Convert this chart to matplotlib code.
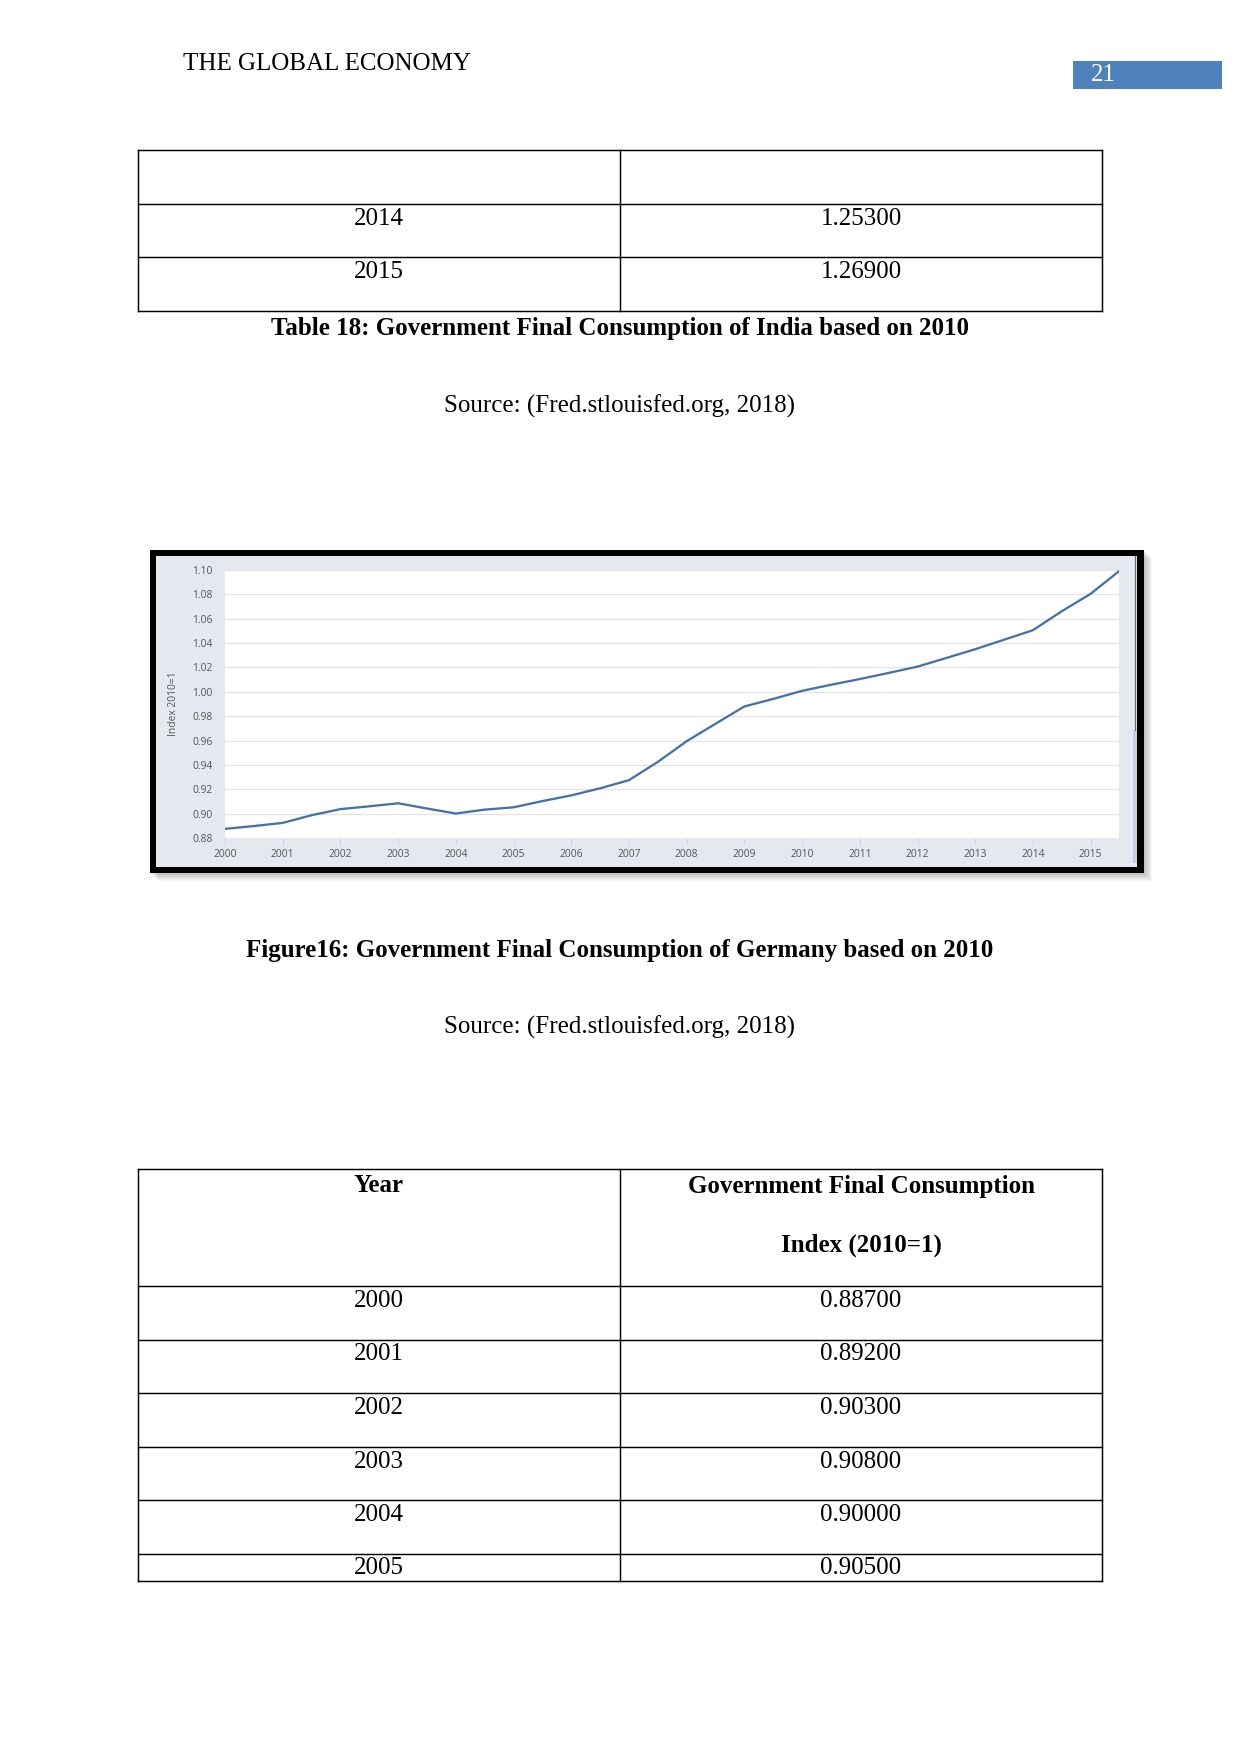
import matplotlib
matplotlib.use('Agg')
import matplotlib.pyplot as plt
from matplotlib.patches import Rectangle

# ---- datos ----
periods = [2000, 2000.5, 2001, 2001.5, 2002, 2002.5, 2003, 2003.5, 2004, 2004.5,
           2005, 2005.5, 2006, 2006.5, 2007, 2007.5, 2008, 2008.5, 2009, 2009.5,
           2010, 2010.5, 2011, 2011.5, 2012, 2012.5, 2013, 2013.5, 2014, 2014.5,
           2015, 2015.49]
index_vals = [0.8875, 0.8898, 0.8924, 0.8987, 0.9037, 0.9060, 0.9085, 0.9042, 0.9001, 0.9033,
              0.9052, 0.9103, 0.9150, 0.9208, 0.9275, 0.9425, 0.9595, 0.9738, 0.9880, 0.9942,
              1.0008, 1.0058, 1.0105, 1.0155, 1.0207, 1.0278, 1.0350, 1.0428, 1.0506, 1.0662,
              1.0805, 1.0990]
x_ticks = list(range(2000, 2016))
y_ticks = [0.88, 0.90, 0.92, 0.94, 0.96, 0.98, 1.00, 1.02, 1.04, 1.06, 1.08, 1.10]

top_years = ['', '2014', '2015']
top_vals = ['', '1.25300', '1.26900']
tab_years = ['2000', '2001', '2002', '2003', '2004', '2005']
tab_vals = ['0.88700', '0.89200', '0.90300', '0.90800', '0.90000', '0.90500']

W, H, DPI = 1241, 1754, 150
SERIF = 'Liberation Serif'
SANS = 'Open Sans'

fig = plt.figure(figsize=(W / DPI, H / DPI), dpi=DPI)
page = fig.add_axes([0, 0, 1, 1])
page.set_xlim(0, W); page.set_ylim(H, 0); page.axis('off')

def txt(x, y, s, bold=False, color='black', ha='center'):
    page.text(x, y, s, fontfamily=SERIF, fontsize=12, fontweight='bold' if bold else 'normal',
              color=color, ha=ha, va='center')

# ---- encabezado ----
txt(183, 64, 'THE GLOBAL ECONOMY', ha='left')
page.add_patch(Rectangle((1073, 61), 149, 28, color='#4f81bd', lw=0))
txt(1091, 75, '21', color='white', ha='left')

# ---- tabla superior ----
L, M, R = 138, 620, 1102
lw_tab = 0.7
top_lines = [150, 204, 257, 311]
for y in top_lines:
    page.plot([L, R], [y, y], color='black', lw=lw_tab)
for x in (L, M, R):
    page.plot([x, x], [top_lines[0], top_lines[-1]], color='black', lw=lw_tab)
for i, (yr, v) in enumerate(zip(top_years, top_vals)):
    txt((L + M) / 2, top_lines[i] + 15, yr)
    txt((M + R) / 2, top_lines[i] + 15, v)

txt(620, 328, 'Table 18: Government Final Consumption of India based on 2010', bold=True)
txt(620, 406, 'Source: (Fred.stlouisfed.org, 2018)')

# ---- marco del gráfico (sombra difusa + borde negro) ----
for k in range(1, 9):
    page.add_patch(Rectangle((150 + k, 550 + k), 994, 323, color='#808080', alpha=0.07, lw=0))
page.add_patch(Rectangle((150, 550), 994, 323, color='black', lw=0))
page.add_patch(Rectangle((156, 556), 981, 311, color='#e4e9ef', lw=0))
page.plot([1135, 1135], [556, 730], color='#6e6e6e', lw=0.6)
page.add_patch(Rectangle((1133, 730), 4, 133, color='#c3d0e2', lw=0))

# ---- gráfico ----
pl, pr, pt, pb = 225, 1119, 570, 838
ax = fig.add_axes([pl / W, 1 - pb / H, (pr - pl) / W, (pb - pt) / H])
ax.set_facecolor('white')
ax.plot(periods, index_vals, color='#4572a7', lw=1.1, solid_joinstyle='round')
ax.set_xlim(2000, 2015.49)
ax.set_ylim(0.88, 1.10)
ax.set_xticks(x_ticks)
ax.set_xticklabels([str(y) for y in x_ticks])
ax.set_yticks(y_ticks)
ax.set_yticklabels([f'{v:.2f}' for v in y_ticks])
ax.grid(axis='y', color='#e3e3e3', lw=0.6)
ax.set_axisbelow(True)
for s in ax.spines.values():
    s.set_visible(False)
ax.tick_params(axis='x', length=3.5, width=0.5, color='#ccd6eb', pad=2,
               labelsize=4.9, labelcolor='#555555')
ax.tick_params(axis='y', length=0, pad=6, labelsize=4.9, labelcolor='#555555')
for lab in ax.get_xticklabels() + ax.get_yticklabels():
    lab.set_fontfamily(SANS)
ax.set_ylabel('Index 2010=1', fontfamily=SANS, fontsize=4.9, color='#555555', labelpad=6)

txt(620, 950, 'Figure16: Government Final Consumption of Germany based on 2010', bold=True)
txt(620, 1027, 'Source: (Fred.stlouisfed.org, 2018)')

# ---- tabla inferior ----
head_top, head_bot, row_h, bottom = 1169, 1286, 53.5, 1581
lines = [head_top, head_bot] + [head_bot + row_h * (i + 1) for i in range(len(tab_years) - 1)] + [bottom]
for y in lines:
    page.plot([L, R], [y, y], color='black', lw=lw_tab)
for x in (L, M, R):
    page.plot([x, x], [head_top, bottom], color='black', lw=lw_tab)
txt((L + M) / 2, 1185, 'Year', bold=True)
txt((M + R) / 2, 1187, 'Government Final Consumption', bold=True)
txt((M + R) / 2, 1245, 'Index (2010=1)', bold=True)
for i, (yr, v) in enumerate(zip(tab_years, tab_vals)):
    txt((L + M) / 2, lines[i + 1] + 15, yr)
    txt((M + R) / 2, lines[i + 1] + 15, v)

fig.savefig('out.png', dpi=DPI, facecolor='white')
